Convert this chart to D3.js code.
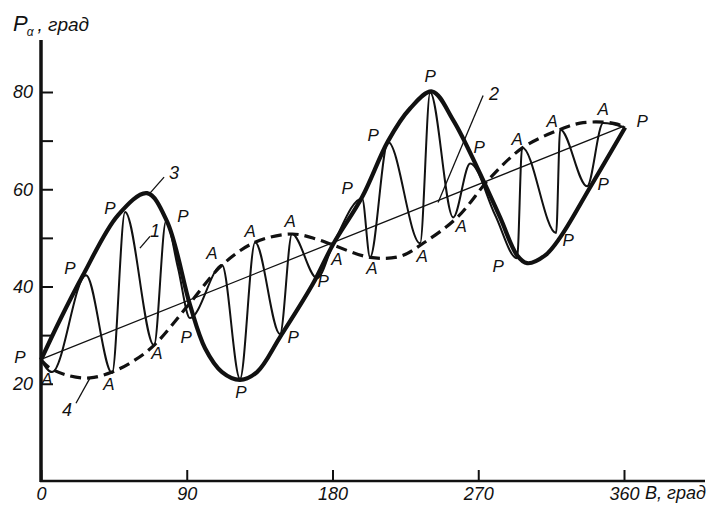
<!DOCTYPE html>
<html lang="ru">
<head>
<meta charset="UTF-8">
<title>P_alpha vs B</title>
<script src="https://d3js.org/d3.v7.min.js"></script>
<style>
  body { margin: 0; background: #fff; }
  svg { display: block; }
  .lbl { font-family: "Liberation Sans", "DejaVu Sans", sans-serif; font-style: italic; fill: #111; }
  .tick text { font-family: "Liberation Sans", "DejaVu Sans", sans-serif; font-style: italic; font-size: 18px; fill: #111; }
  .tick line { stroke: #111; stroke-width: 2; }
</style>
</head>
<body>
<svg id="chart" width="714" height="505"></svg>
<script>
// --- values (B in degrees, P in degrees) ---
const xTicks = [0, 90, 180, 270, 360];
const yTicks = [20, 30, 40, 50, 60, 70, 80];
const yTickLabels = [20, 40, 60, 80];

// 2 - thin straight line
const line2 = [[0, 25], [360, 73]];

// 3 - P envelope (thick solid)
const curve3 = [
  [0, 24.9], [11.7, 33.1], [25.9, 42.3], [47.6, 54.7], [65.5, 59.2], [77.8, 53.4],
  [92.0, 36.2], [101.3, 27.3], [111.8, 22.4], [122.9, 20.8], [133.4, 22.4], [147.6, 29.6],
  [168.0, 40.6], [180.4, 48.7], [198.3, 58.4], [214.3, 69.9], [227.9, 76.6], [241.5, 80.1],
  [254.5, 74.2], [269.3, 64.5], [283.5, 54.2], [294.0, 46.4], [300.2, 44.8], [311.3, 46.4],
  [320.6, 50.1], [339.1, 60.4], [360.7, 72.7]
];

// 4 - A envelope (thick dashed)
const curve4 = [
  [0, 24.9], [5.6, 23.2], [17.9, 21.6], [30.3, 21.2], [43.9, 22.4], [58.1, 24.9],
  [70.4, 28.1], [92.0, 36.6], [111.8, 44.4], [132.2, 49.1], [155.0, 50.8], [170.5, 49.7],
  [180.4, 48.5], [203.2, 46.0], [221.7, 46.2], [236.0, 48.9], [257.0, 54.2], [277.3, 62.3],
  [297.7, 68.6], [320.6, 72.3], [332.9, 73.6], [347.1, 73.8], [355.8, 73.4], [360.7, 72.7]
];

// 1 - oscillating curve between P and A
const curve1 = [
  [0, 24.9], [6.8, 22.4], [27.8, 42.3], [43.9, 22.2], [51.9, 55.3], [69.8, 27.9],
  [77.2, 53.4], [84.6, 43.8], [92.0, 33.5], [111.8, 44.4], [122.9, 21.0], [132.2, 49.1],
  [147.6, 30.2], [155.0, 50.8], [170.5, 41.7], [180.4, 48.7], [198.3, 58.1], [203.2, 46.0],
  [214.3, 69.7], [234.1, 48.9], [240.3, 79.9], [254.5, 54.2], [265.0, 65.3], [280.4, 54.7],
  [294.0, 45.8], [297.1, 68.6], [318.1, 51.0], [320.6, 72.3], [337.2, 60.6], [347.1, 73.6],
  [360.7, 72.7]
];

// point labels (B, P of the letter)
const labelsP = [
  [-13.0, 25.3], [17.9, 43.8], [42.6, 56.1], [87.7, 54.4], [89.6, 29.6], [123.5, 18.3],
  [155.7, 29.6], [174.2, 41.1], [189.0, 60.2], [205.1, 71.1], [240.3, 83.2], [270.5, 68.6],
  [282.3, 44.2], [325.5, 49.5], [347.1, 61.0], [371.2, 74.0]
];
const labelsA = [
  [3.7, 20.8], [42.0, 19.9], [71.6, 26.3], [105.6, 46.8], [129.1, 51.4], [153.8, 53.4],
  [182.8, 45.6], [204.4, 43.8], [235.3, 46.2], [259.4, 52.4], [294.0, 70.3], [315.6, 74.0],
  [347.1, 76.4]
];

// curve numbers with leader lines: text, text point, leader start, leader end
const curveNames = ["1", "2", "3", "4"];
const namePoints = [[70.4, 51.4], [279.8, 79.5], [82.1, 63.3], [16.1, 14.6]];
const leaderFrom = [[61.1, 47.9], [245.2, 57.3], [67.3, 59.2], [30.3, 21.2]];
const leaderTo = [[67.3, 50.3], [273.0, 79.3], [76.0, 62.5], [21.6, 16.0]];

// --- drawing ---
const svg = d3.select("#chart");
const x = d3.scaleLinear().domain([0, 360]).range([41, 624]);
const y = d3.scaleLinear().domain([0, 80]).range([481, 92]);

// axes
const yAxis = d3.axisLeft(y).tickValues(yTicks).tickSize(-12).tickPadding(8)
  .tickFormat(d => yTickLabels.includes(d) ? d : "");
const gy = svg.append("g").attr("transform", `translate(${x(0)},0)`).call(yAxis);
gy.select(".domain").remove();

const xAxis = d3.axisBottom(x).tickValues(xTicks).tickSize(-11).tickPadding(6);
const gx = svg.append("g").attr("transform", `translate(0,${y(0)})`).call(xAxis);
gx.select(".domain").remove();

svg.append("line").attr("x1", x(0)).attr("x2", x(0)).attr("y1", y(0) + 1).attr("y2", 40)
  .attr("stroke", "#111").attr("stroke-width", 3.5);
svg.append("line").attr("x1", x(0) - 1).attr("x2", 705).attr("y1", y(0)).attr("y2", y(0))
  .attr("stroke", "#111").attr("stroke-width", 2.5);

// axis titles
const ttl = svg.append("text").attr("class", "lbl").attr("x", 13).attr("y", 31);
ttl.append("tspan").attr("font-size", 22).text("P");
ttl.append("tspan").attr("font-size", 12).attr("dx", -1).attr("dy", 5).text("α");
ttl.append("tspan").attr("font-size", 19).attr("dx", 4).attr("dy", -5).text(", град");

svg.append("text").attr("class", "lbl").attr("x", 645).attr("y", 499)
  .attr("font-size", 18).text("B, град");

const gen = c => d3.line().x(d => x(d[0])).y(d => y(d[1])).curve(c);

svg.append("path").datum(line2).attr("d", gen(d3.curveLinear))
  .attr("fill", "none").attr("stroke", "#111").attr("stroke-width", 1.3);

svg.append("path").datum(curve1).attr("d", gen(d3.curveMonotoneX))
  .attr("fill", "none").attr("stroke", "#111").attr("stroke-width", 2);

svg.append("path").datum(curve4).attr("d", gen(d3.curveCatmullRom.alpha(0.5)))
  .attr("fill", "none").attr("stroke", "#111").attr("stroke-width", 3.2)
  .attr("stroke-dasharray", "11,6");

svg.append("path").datum(curve3).attr("d", gen(d3.curveCatmullRom.alpha(0.5)))
  .attr("fill", "none").attr("stroke", "#111").attr("stroke-width", 4.2)
  .attr("stroke-linejoin", "round");

// letters P / A
const letters = labelsP.map(p => ({ t: "P", p })).concat(labelsA.map(p => ({ t: "A", p })));
svg.selectAll(".pt").data(letters).enter().append("text")
  .attr("class", "lbl pt").attr("font-size", 17)
  .attr("text-anchor", "middle").attr("dominant-baseline", "central")
  .attr("x", d => x(d.p[0])).attr("y", d => y(d.p[1])).text(d => d.t);

// curve numbers
svg.selectAll(".leader").data(curveNames).enter().append("line")
  .attr("class", "leader").attr("stroke", "#111").attr("stroke-width", 1.3)
  .attr("x1", (d, i) => x(leaderFrom[i][0])).attr("y1", (d, i) => y(leaderFrom[i][1]))
  .attr("x2", (d, i) => x(leaderTo[i][0])).attr("y2", (d, i) => y(leaderTo[i][1]));
svg.selectAll(".num").data(curveNames).enter().append("text")
  .attr("class", "lbl num").attr("font-size", 18)
  .attr("text-anchor", "middle").attr("dominant-baseline", "central")
  .attr("x", (d, i) => x(namePoints[i][0])).attr("y", (d, i) => y(namePoints[i][1])).text(d => d);
</script>
</body>
</html>
